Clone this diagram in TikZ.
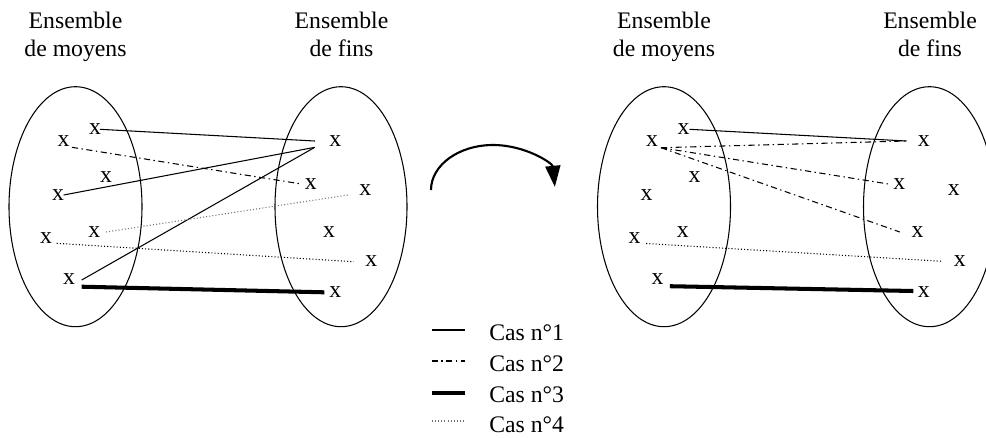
\documentclass[tikz,border=0pt]{standalone}
\usepackage{fontspec}
\setmainfont{Liberation Serif}
\usetikzlibrary{calc,arrows.meta}

% One pair of sets (means / ends) with their elements; #1 = name prefix, #2 = horizontal offset
\newcommand\drawsets[2]{%
  \begin{scope}[shift={(#2,0)}]
    \draw[setline] (75.5,206.7) ellipse [x radius=66.5, y radius=120];
    \draw[setline] (341,206.7) ellipse [x radius=66, y radius=120];
    \node[heading] (#1means) at (75.5,12) {Ensemble\\de moyens};
    \node[heading] (#1ends)  at (341.5,12) {Ensemble\\de fins};
    % means
    \node[elem] (#1m1) at (95,129.3)  {x};
    \node[elem] (#1m2) at (63.5,141)  {x};
    \node[elem] (#1m3) at (106,177.3) {x};
    \node[elem] (#1m4) at (58,195)    {x};
    \node[elem] (#1m5) at (94.3,232)  {x};
    \node[elem] (#1m6) at (46,238.5)  {x};
    \node[elem] (#1m7) at (69,279.5)  {x};
    % ends
    \node[elem] (#1f1) at (335.3,141) {x};
    \node[elem] (#1f2) at (310.8,184) {x};
    \node[elem] (#1f3) at (365.2,190) {x};
    \node[elem] (#1f4) at (329,232)   {x};
    \node[elem] (#1f5) at (371.2,261.3) {x};
    \node[elem] (#1f6) at (335.4,292) {x};
  \end{scope}}

\begin{document}
\begin{tikzpicture}[x=0.02cm, y=-0.02cm,
  every node/.style={font=\fontsize{13.5}{15.5}\selectfont},
  heading/.style={anchor=north, align=center, inner sep=0pt},
  elem/.style={inner sep=0pt},
  setline/.style={line width=0.6pt},
  cas1/.style={line width=0.6pt},
  cas2/.style={line width=0.6pt, dash pattern=on 3.5pt off 2pt on 0.8pt off 2pt},
  cas3/.style={line width=2.3pt},
  cas4/.style={line width=0.6pt, dash pattern=on 0.6pt off 1.2pt},
]
\useasboundingbox (0,0) rectangle (986,437);

\drawsets{L}{0}
\drawsets{R}{588.5}

% first configuration
\draw[cas1] ($(Lm1)+(5,0)$) -- ($(Lf1)+(-20.5,0)$);
\draw[cas1] ($(Lm4)+(5.6,0)$) -- ($(Lf1)+(-20.5,6.3)$);
\draw[cas1] ($(Lm7)+(12.7,0.5)$) -- ($(Lf1)+(-20.5,6.3)$);
\draw[cas2] ($(Lm2)+(8.4,6.3)$) -- ($(Lf2)+(-9.3,0)$);
\draw[cas4, black!55] ($(Lm5)+(11.7,0)$) -- ($(Lf3)+(-17.4,5)$);
\draw[cas4] ($(Lm6)+(10.7,4.8)$) -- ($(Lf5)+(-17.7,0.4)$);
\draw[cas3] ($(Lm7)+(12.7,7.2)$) -- ($(Lf6)+(-11,0.3)$);

% second configuration
\draw[cas1] ($(Rm1)+(6,0)$) -- ($(Rf1)+(-17.3,0)$);
\draw[cas2] ($(Rm2)+(9,6.7)$) -- ($(Rf1)+(-18.3,0)$);
\draw[cas2] ($(Rm2)+(9,6.7)$) -- ($(Rf2)+(-10.7,0)$);
\draw[cas2] ($(Rm2)+(9,6.7)$) -- ($(Rf4)+(-17.7,0)$);
\draw[cas4] ($(Rm6)+(11.7,5)$) -- ($(Rf5)+(-17.6,0)$);
\draw[cas3] ($(Rm7)+(12.4,6.7)$) -- ($(Rf6)+(-10.6,-1)$);

% transition arrow
\coordinate (turnfrom) at (431,190);
\draw[line width=1.2pt, -{Triangle[length=12pt, width=8.5pt]}]
  (turnfrom) arc[start angle=180, end angle=356, x radius=62, y radius=45];

% legend
\node[anchor=base west, inner sep=0pt] (c1) at (489,340) {Cas n°1};
\node[anchor=base west, inner sep=0pt] (c2) at (489,371) {Cas n°2};
\node[anchor=base west, inner sep=0pt] (c3) at (489,402) {Cas n°3};
\node[anchor=base west, inner sep=0pt] (c4) at (489,432) {Cas n°4};
\draw[cas1] ($(c1.base west)+(-57.3,-10)$) -- +(33.3,0);
\draw[cas2] ($(c2.base west)+(-57.3,-10)$) -- +(33.3,0);
\draw[cas3] ($(c3.base west)+(-57.3,-9)$) -- +(33.3,0);
\draw[cas4, black!55] ($(c4.base west)+(-57.3,-11)$) -- +(33.3,0);
\end{tikzpicture}
\end{document}
